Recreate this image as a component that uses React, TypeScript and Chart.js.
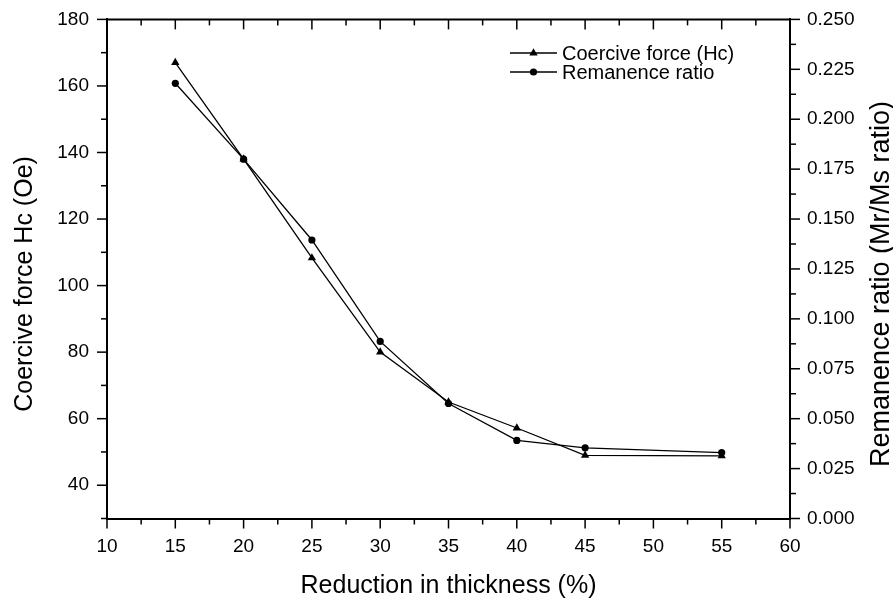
import React, { useEffect, useRef } from "react";
import { Chart, registerables } from "chart.js";

Chart.register(...registerables);

// ---- data ----
const thickness = [15, 20, 25, 30, 35, 40, 45, 55];
const coerciveForce = [167, 138, 108.3, 80, 65, 57.2, 49, 48.8];
const remanenceRatio = [0.218, 0.18, 0.1395, 0.0887, 0.0576, 0.0391, 0.0354, 0.033];

const xTicks = [10, 15, 20, 25, 30, 35, 40, 45, 50, 55, 60];
const leftTicks = [40, 60, 80, 100, 120, 140, 160, 180];
const rightTicks = [0, 0.025, 0.05, 0.075, 0.1, 0.125, 0.15, 0.175, 0.2, 0.225, 0.25];

const xRange = [10, 60];
const leftRange = [30, 180];
const rightRange = [0, 0.25];
const xMinorStep = 2.5;
const leftMinorStep = 10;
const rightMinorStep = 0.0125;

const xTitle = "Reduction in thickness (%)";
const leftTitle = "Coercive force Hc (Oe)";
const rightTitle = "Remanence ratio (Mr/Ms ratio)";
const seriesLabels = ["Coercive force (Hc)", "Remanence ratio"];

const FONT = "'Liberation Sans', Arial, sans-serif";

function tickValues(min: number, max: number, step: number) {
  const out: number[] = [];
  const n = Math.round((max - min) / step);
  for (let i = 0; i <= n; i++) out.push(min + i * step);
  return out;
}

function isMajor(v: number, majors: number[]) {
  return majors.some((m) => Math.abs(m - v) < 1e-9);
}

function drawMarker(ctx: CanvasRenderingContext2D, style: string, x: number, y: number, r: number) {
  ctx.beginPath();
  if (style === "triangle") {
    for (let i = 0; i < 3; i++) {
      const a = (i * 2 * Math.PI) / 3;
      const px = x + Math.sin(a) * r;
      const py = y - Math.cos(a) * r;
      if (i === 0) ctx.moveTo(px, py);
      else ctx.lineTo(px, py);
    }
    ctx.closePath();
  } else {
    ctx.arc(x, y, r, 0, Math.PI * 2);
  }
  ctx.fill();
}

function drawVerticalTitle(ctx: CanvasRenderingContext2D, text: string, x: number, y: number, size: number) {
  ctx.save();
  ctx.translate(x, y);
  ctx.rotate(-Math.PI / 2);
  ctx.font = `${size}px ${FONT}`;
  ctx.fillStyle = "#000";
  ctx.textAlign = "center";
  ctx.textBaseline = "middle";
  ctx.fillText(text, 0, 0);
  ctx.restore();
}

const framePlugin = {
  id: "frame",
  afterDraw(chart: any) {
    const { ctx, chartArea } = chart;
    const { left, right, top, bottom } = chartArea;
    const sx = chart.scales.x;
    const sy = chart.scales.y;
    const sy1 = chart.scales.y1;
    ctx.save();
    ctx.strokeStyle = "#000";
    ctx.fillStyle = "#000";

    // top border
    ctx.lineWidth = 2;
    ctx.beginPath();
    ctx.moveTo(left - 1, top);
    ctx.lineTo(right + 1, top);
    ctx.stroke();

    ctx.lineWidth = 1.5;
    const line = (x1: number, y1: number, x2: number, y2: number) => {
      ctx.beginPath();
      ctx.moveTo(x1, y1);
      ctx.lineTo(x2, y2);
      ctx.stroke();
    };
    // x ticks: bottom outward, top inward
    for (const v of tickValues(xRange[0], xRange[1], xMinorStep)) {
      const len = isMajor(v, xTicks) ? 10 : 6;
      const px = sx.getPixelForValue(v);
      line(px, bottom, px, bottom + len);
      line(px, top, px, top + len);
    }
    // left ticks outward
    for (const v of tickValues(leftRange[0], leftRange[1], leftMinorStep)) {
      const len = isMajor(v, leftTicks) ? 10 : 6;
      const py = sy.getPixelForValue(v);
      line(left, py, left - len, py);
    }
    // right ticks outward
    for (const v of tickValues(rightRange[0], rightRange[1], rightMinorStep)) {
      const len = isMajor(v, rightTicks) ? 10 : 6;
      const py = sy1.getPixelForValue(v);
      line(right, py, right + len, py);
    }

    // vertical axis titles, reading bottom-to-top
    const midY = (top + bottom) / 2 + 15;
    drawVerticalTitle(ctx, leftTitle, 25, midY, 25);
    drawVerticalTitle(ctx, rightTitle, 881.5, midY, 27);

    // legend
    const ds = chart.data.datasets;
    const rows = [53, 72];
    ctx.font = `20px ${FONT}`;
    ctx.textAlign = "left";
    ctx.textBaseline = "middle";
    ds.forEach((d: any, i: number) => {
      const y = rows[i];
      ctx.lineWidth = 1.3;
      line(510, y, 557, y);
      drawMarker(ctx, d.pointStyle, 533.5, y, d.pointRadius);
      ctx.fillText(seriesLabels[i], 562, y + 1);
    });
    ctx.restore();
  },
};

export default function App() {
  const canvasRef = useRef<HTMLCanvasElement | null>(null);

  useEffect(() => {
    const canvas = canvasRef.current;
    if (!canvas) return;
    const tickFont = { family: FONT, size: 19 };
    const chart = new Chart(canvas, {
      type: "line",
      data: {
        datasets: [
          {
            label: seriesLabels[0],
            data: thickness.map((x, i) => ({ x, y: coerciveForce[i] })),
            yAxisID: "y",
            borderColor: "#000",
            backgroundColor: "#000",
            borderWidth: 1.3,
            pointStyle: "triangle",
            pointRadius: 4.8,
            pointBorderWidth: 0,
            tension: 0,
          },
          {
            label: seriesLabels[1],
            data: thickness.map((x, i) => ({ x, y: remanenceRatio[i] })),
            yAxisID: "y1",
            borderColor: "#000",
            backgroundColor: "#000",
            borderWidth: 1.3,
            pointStyle: "circle",
            pointRadius: 3.6,
            pointBorderWidth: 0,
            tension: 0,
          },
        ],
      },
      options: {
        animation: false,
        responsive: false,
        maintainAspectRatio: false,
        layout: { padding: { top: 17, left: 0, right: 0, bottom: 0 } },
        plugins: {
          legend: { display: false },
          tooltip: { enabled: false },
        },
        scales: {
          x: {
            type: "linear",
            position: "bottom",
            min: xRange[0],
            max: xRange[1],
            afterBuildTicks: (s: any) => {
              s.ticks = xTicks.map((v) => ({ value: v }));
            },
            afterFit: (s: any) => {
              s.height = 601 - 518.5;
            },
            grid: { display: false, drawTicks: true, tickLength: 10 },
            border: { display: true, color: "#000", width: 2 },
            ticks: { color: "#000", font: tickFont, padding: 7, maxRotation: 0 },
            title: {
              display: true,
              text: xTitle,
              color: "#000",
              font: { family: FONT, size: 25 },
              padding: { top: 0, bottom: 0 },
            },
          },
          y: {
            type: "linear",
            position: "left",
            min: leftRange[0],
            max: leftRange[1],
            afterBuildTicks: (s: any) => {
              s.ticks = leftTicks.map((v) => ({ value: v }));
            },
            afterFit: (s: any) => {
              s.width = 107;
            },
            grid: { display: false, drawTicks: true, tickLength: 10 },
            border: { display: true, color: "#000", width: 2 },
            ticks: { color: "#000", font: tickFont, padding: 8 },
          },
          y1: {
            type: "linear",
            position: "right",
            min: rightRange[0],
            max: rightRange[1],
            afterBuildTicks: (s: any) => {
              s.ticks = rightTicks.map((v) => ({ value: v }));
            },
            afterFit: (s: any) => {
              s.width = 893 - 790;
            },
            grid: { display: false, drawTicks: true, tickLength: 10 },
            border: { display: true, color: "#000", width: 2 },
            ticks: {
              color: "#000",
              font: tickFont,
              padding: 7,
              callback: (v: any) => Number(v).toFixed(3),
            },
          },
        },
      },
      plugins: [framePlugin],
    } as any);
    return () => chart.destroy();
  }, []);

  return (
    <div style={{ position: "fixed", left: 0, top: 0, width: 893, height: 601, background: "#fff" }}>
      <canvas ref={canvasRef} width={893} height={601} style={{ display: "block" }} />
    </div>
  );
}
